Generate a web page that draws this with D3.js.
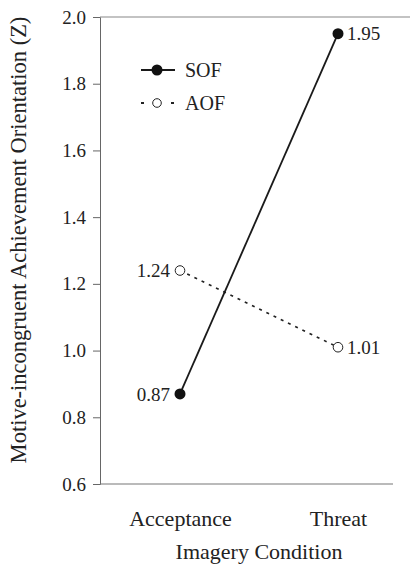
<!DOCTYPE html>
<html><head><meta charset="utf-8">
<script src="https://cdn.jsdelivr.net/npm/d3@7"></script>
<style>body{margin:0;background:#fff}svg{display:block;font-family:"Liberation Serif","Times New Roman",serif}</style>
</head><body><div id="c"></div>
<script>
const categories = ["Acceptance", "Threat"];
const sofValues = [0.87, 1.95];
const aofValues = [1.24, 1.01];
const yTicks = [0.6, 0.8, 1.0, 1.2, 1.4, 1.6, 1.8, 2.0];
const seriesNames = ["SOF", "AOF"];

const W = 414, H = 567;
const FONT = "Liberation Serif";
const svg = d3.select("#c").append("svg").attr("width", W).attr("height", H).attr("font-family", FONT);
const mLeft = 100, mTop = 17, mBottom = 484;

const y = d3.scaleLinear().domain([0.6, 2.0]).range([mBottom, mTop]);
const x = d3.scalePoint().domain(categories).range([180, 338]);

// y axis
const ya = svg.append("g").attr("transform", `translate(${mLeft},0)`)
  .call(d3.axisLeft(y).tickValues(yTicks).tickFormat(d3.format(".1f")).tickSizeOuter(0).tickSize(7).tickPadding(7));
ya.attr("font-family", FONT);
ya.select(".domain").attr("stroke", "#666");
ya.selectAll(".tick line").attr("stroke", "#666");
ya.selectAll("text").attr("font-size", 19).attr("fill", "#222");

// top and bottom frame lines
svg.append("line").attr("x1", mLeft).attr("x2", 410).attr("y1", y(2.0)).attr("y2", y(2.0)).attr("stroke", "#888").attr("stroke-width", 1.2);
svg.append("line").attr("x1", mLeft).attr("x2", 393).attr("y1", y(0.6)).attr("y2", y(0.6)).attr("stroke", "#777").attr("stroke-width", 1.2);

// x labels
const xa = svg.append("g").attr("transform", `translate(0,${mBottom})`)
  .call(d3.axisBottom(x).tickSize(0).tickPadding(26));
xa.attr("font-family", FONT);
xa.select(".domain").remove();
xa.selectAll("text").attr("font-size", 22).attr("fill", "#222");

// axis titles
svg.append("text").attr("x", 259).attr("y", 559).attr("text-anchor", "middle").attr("font-size", 22).attr("fill", "#222").text("Imagery Condition");
svg.append("text").attr("transform", `translate(26,240) rotate(-90)`).attr("text-anchor", "middle").attr("font-size", 22.5).attr("fill", "#222").text("Motive-incongruent Achievement Orientation (Z)");

const line = d3.line().x((d, i) => x(categories[i])).y(d => y(d));

// AOF
svg.append("path").attr("d", line(aofValues)).attr("fill", "none").attr("stroke", "#222").attr("stroke-width", 1.6).attr("stroke-dasharray", "3,5");
// SOF
svg.append("path").attr("d", line(sofValues)).attr("fill", "none").attr("stroke", "#1a1a1a").attr("stroke-width", 1.8);

svg.selectAll(".aof").data(aofValues).join("circle").attr("cx", (d, i) => x(categories[i])).attr("cy", d => y(d)).attr("r", 4.8).attr("fill", "#fff").attr("stroke", "#222").attr("stroke-width", 1);
svg.selectAll(".sof").data(sofValues).join("circle").attr("cx", (d, i) => x(categories[i])).attr("cy", d => y(d)).attr("r", 5.5).attr("fill", "#111");

// value labels
function lab(vals) {
  vals.forEach((v, i) => {
    const cx = x(categories[i]);
    svg.append("text").attr("x", i === 0 ? cx - 10 : cx + 9).attr("y", y(v)).attr("dy", "0.35em")
      .attr("text-anchor", i === 0 ? "end" : "start").attr("font-size", 19).attr("fill", "#222").text(v.toFixed(2));
  });
}
lab(sofValues); lab(aofValues);

// legend
const lg = svg.append("g");
lg.append("line").attr("x1", 141).attr("x2", 175).attr("y1", 70).attr("y2", 70).attr("stroke", "#1a1a1a").attr("stroke-width", 1.8);
lg.append("circle").attr("cx", 157).attr("cy", 70).attr("r", 5.5).attr("fill", "#111");
lg.append("text").attr("x", 185).attr("y", 70).attr("dy", "0.35em").attr("font-size", 20).attr("fill", "#222").text(seriesNames[0]);
lg.append("line").attr("x1", 141).attr("x2", 174).attr("y1", 103).attr("y2", 103).attr("stroke", "#222").attr("stroke-width", 1.8).attr("stroke-dasharray", "3,27");
lg.append("circle").attr("cx", 157).attr("cy", 103).attr("r", 4.3).attr("fill", "#fff").attr("stroke", "#222");
lg.append("text").attr("x", 185).attr("y", 103).attr("dy", "0.35em").attr("font-size", 20).attr("fill", "#222").text(seriesNames[1]);
</script></body></html>
